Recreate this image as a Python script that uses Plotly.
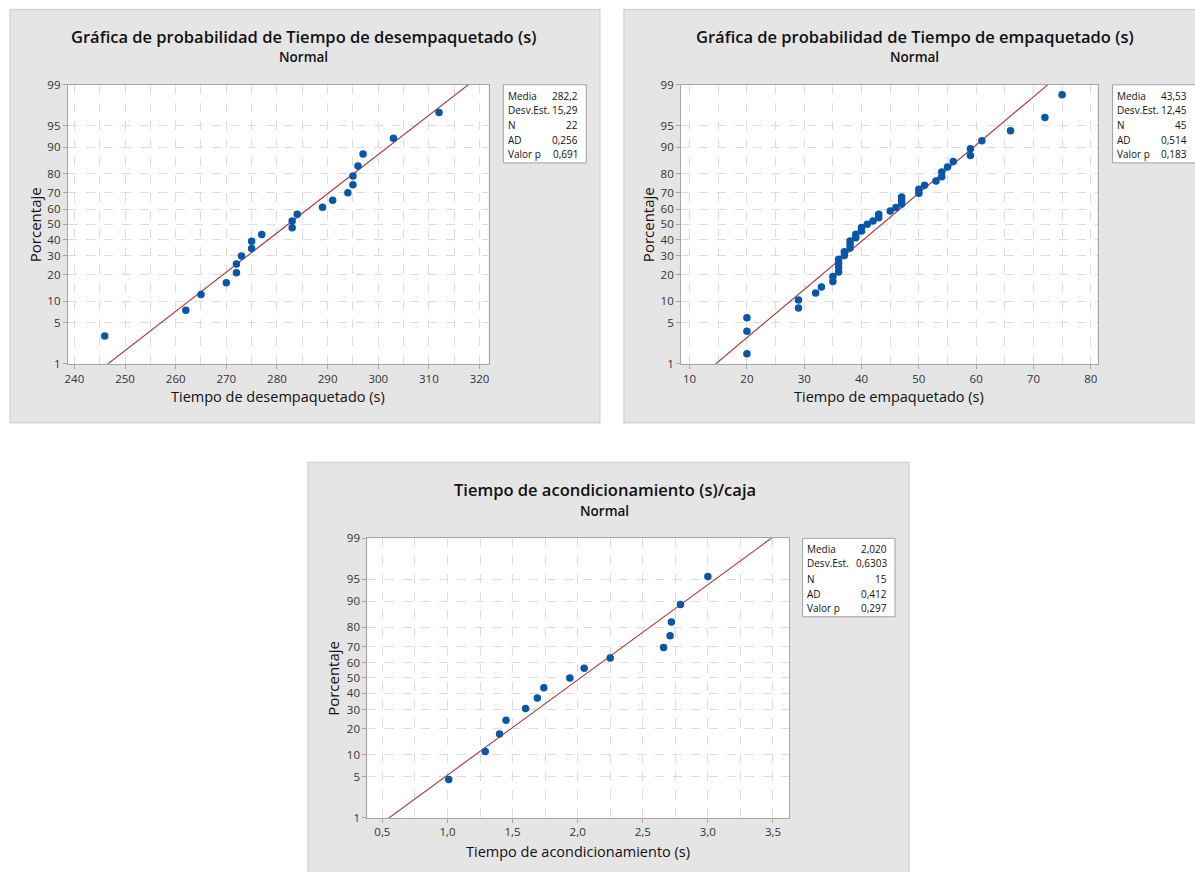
import plotly.graph_objects as go
from statistics import NormalDist

W, H = 1195, 872
nd = NormalDist()

# vertical placement calibration (observed rendering offset/scale of the page)
Y_OFF, Y_SPAN = 8.6, 856.0


def zval(p):
    return nd.inv_cdf(p / 100.0)


def px(x):
    return x / W


def py(y):
    return 1 - (y - Y_OFF) / Y_SPAN


# ---------------- data ----------------
pct_ticks = [1, 5, 10, 20, 30, 40, 50, 60, 70, 80, 90, 95, 99]
pct_labels = [str(v) for v in pct_ticks]

# Panel 1: Tiempo de desempaquetado (s)
desemp_x = [246, 262, 265, 270, 272, 272, 273, 275, 275, 277, 283,
            283, 284, 289, 291, 294, 295, 295, 296, 297, 303, 312]
desemp_pct = [3.13, 7.59, 12.05, 16.52, 20.98, 25.45, 29.91, 34.38, 38.84,
              43.30, 47.77, 52.23, 56.70, 61.16, 65.63, 70.09, 74.55, 79.02,
              83.48, 87.95, 92.41, 96.88]
desemp_mean, desemp_sd = 282.2, 15.29
desemp_stats = ["282,2", "15,29", "22", "0,256", "0,691"]
desemp_xticks = [240, 250, 260, 270, 280, 290, 300, 310, 320]
desemp_xticktext = ["240", "250", "260", "270", "280", "290", "300", "310", "320"]
desemp_xminor = [245, 255, 265, 275, 285, 295, 305, 315]

# Panel 2: Tiempo de empaquetado (s)
emp_x = [20, 20, 20, 29, 29, 32, 33, 35, 35, 36, 36, 36, 36, 37, 37,
         38, 38, 38, 39, 39, 40, 40, 41, 42, 43, 43, 45, 46, 47, 47,
         47, 50, 50, 51, 53, 54, 54, 55, 56, 59, 59, 61, 66, 72, 75]
emp_pct = [1.54, 3.74, 5.95, 8.15, 10.35, 12.56, 14.76, 16.96, 19.16, 21.37,
           23.57, 25.77, 27.97, 30.18, 32.38, 34.58, 36.78, 38.99, 41.19,
           43.39, 45.59, 47.80, 50.00, 52.20, 54.41, 56.61, 58.81, 61.01,
           63.22, 65.42, 67.62, 69.82, 72.03, 74.23, 76.43, 78.63, 80.84,
           83.04, 85.24, 87.44, 89.65, 91.85, 94.05, 96.26, 98.46]
emp_mean, emp_sd = 43.53, 12.45
emp_stats = ["43,53", "12,45", "45", "0,514", "0,183"]
emp_xticks = [10, 20, 30, 40, 50, 60, 70, 80]
emp_xticktext = ["10", "20", "30", "40", "50", "60", "70", "80"]
emp_xminor = [15, 25, 35, 45, 55, 65, 75]

# Panel 3: Tiempo de acondicionamiento (s)/caja
acond_x = [1.01, 1.29, 1.40, 1.45, 1.60, 1.69, 1.74, 1.94, 2.05, 2.25,
           2.66, 2.71, 2.72, 2.79, 3.00]
acond_pct = [4.55, 11.04, 17.53, 24.03, 30.52, 37.01, 43.51, 50.00, 56.49,
             62.99, 69.48, 75.97, 82.47, 88.96, 95.45]
acond_mean, acond_sd = 2.020, 0.6303
acond_stats = ["2,020", "0,6303", "15", "0,412", "0,297"]
acond_xticks = [0.5, 1.0, 1.5, 2.0, 2.5, 3.0, 3.5]
acond_xticktext = ["0,5", "1,0", "1,5", "2,0", "2,5", "3,0", "3,5"]
acond_xminor = [0.75, 1.25, 1.75, 2.25, 2.75, 3.25]

stat_labels = ["Media", "Desv.Est.", "N", "AD", "Valor p"]

# ---------------- style ----------------
FONT = "Open Sans"
PANEL_BG = "#E5E5E5"
PANEL_BORDER = "#C9C9C9"
AXIS = "#A6A6A6"
GRID = "#DCDCDC"
MARK = "#0856A8"
LINE = "#A83434"
TXT = "#111111"
TICK_TXT = "#333333"

panels = [
    dict(x=desemp_x, p=desemp_pct, mean=desemp_mean, sd=desemp_sd, stats=desemp_stats,
         xt=desemp_xticks, xtt=desemp_xticktext, xm=desemp_xminor, xr=[238.7, 321.8],
         box=(7, 10, 599, 423), plot=(65, 85.3, 487.3, 364),
         title="Gráfica de probabilidad de Tiempo de desempaquetado (s)",
         tcx=302, ty=37, ny=58, xtitle="Tiempo de desempaquetado (s)", xty=397,
         ytx=32, leg=(502, 85.3, 585.3, 163.3)),
    dict(x=emp_x, p=emp_pct, mean=emp_mean, sd=emp_sd, stats=emp_stats,
         xt=emp_xticks, xtt=emp_xticktext, xm=emp_xminor, xr=[8.5, 81.2],
         box=(623, 10, 1200, 423), plot=(680.3, 85.3, 1098.3, 364),
         title="Gráfica de probabilidad de Tiempo de empaquetado (s)",
         tcx=915, ty=37, ny=58, xtitle="Tiempo de empaquetado (s)", xty=397,
         ytx=647, leg=(1113.3, 85.3, 1200, 163.3)),
    dict(x=acond_x, p=acond_pct, mean=acond_mean, sd=acond_sd, stats=acond_stats,
         xt=acond_xticks, xtt=acond_xticktext, xm=acond_xminor, xr=[0.384, 3.626],
         box=(306, 462.3, 909, 890), plot=(365.5, 538.3, 789, 817.3),
         title="Tiempo de acondicionamiento (s)/caja",
         tcx=604, ty=490, ny=511, xtitle="Tiempo de acondicionamiento (s)", xty=851,
         ytx=331, leg=(802.3, 538.3, 895, 616.7)),
]

fig = go.Figure()
shapes = []
annotations = []
layout_axes = {}

zmin, zmax = zval(1), zval(99)

for i, pn in enumerate(panels, start=1):
    sfx = "" if i == 1 else str(i)
    xa, ya = "x" + sfx, "y" + sfx
    bx0, by0, bx1, by1 = pn["box"]
    x0, y0, x1, y1 = pn["plot"]

    # panel background and plot area
    shapes.append(dict(type="rect", xref="paper", yref="paper", layer="below",
                       x0=px(bx0), x1=px(bx1), y0=py(by1), y1=py(by0),
                       fillcolor=PANEL_BG, line=dict(color=PANEL_BORDER, width=1)))
    shapes.append(dict(type="rect", xref="paper", yref="paper", layer="below",
                       x0=px(x0), x1=px(x1), y0=py(y1), y1=py(y0),
                       fillcolor="white", line=dict(width=0)))

    # fitted line
    zl = [zval(0.05), zval(99.95)]
    fig.add_trace(go.Scatter(x=[pn["mean"] + pn["sd"] * z for z in zl], y=zl,
                             mode="lines", line=dict(color=LINE, width=1.1),
                             xaxis=xa, yaxis=ya, showlegend=False, hoverinfo="skip"))
    # points
    fig.add_trace(go.Scatter(x=pn["x"], y=[zval(p) for p in pn["p"]], mode="markers",
                             marker=dict(color=MARK, size=7.5, line=dict(width=0)),
                             xaxis=xa, yaxis=ya, showlegend=False, cliponaxis=False))

    common = dict(showline=True, linecolor=AXIS, linewidth=1, mirror=True,
                  ticks="outside", ticklen=4, tickcolor=AXIS, zeroline=False,
                  showgrid=True, gridcolor=GRID, griddash="dash", gridwidth=1,
                  tickfont=dict(family=FONT, size=11.5, color=TICK_TXT))
    layout_axes["xaxis" + sfx] = dict(
        domain=[px(x0), px(x1)], range=pn["xr"], anchor=ya,
        tickmode="array", tickvals=pn["xt"], ticktext=pn["xtt"],
        minor=dict(tickmode="array", tickvals=pn["xm"], showgrid=True,
                   gridcolor=GRID, griddash="dash", gridwidth=1, ticks=""),
        **common)
    layout_axes["yaxis" + sfx] = dict(
        domain=[py(y1), py(y0)], range=[zmin, zmax], anchor=xa,
        tickmode="array", tickvals=[zval(v) for v in pct_ticks], ticktext=pct_labels,
        **common)

    # titles
    annotations.append(dict(text=pn["title"], x=px(pn["tcx"]), y=py(pn["ty"]),
                            xref="paper", yref="paper", showarrow=False,
                            xanchor="center", yanchor="middle",
                            font=dict(family=FONT, size=16.5, color=TXT, weight=600)))
    annotations.append(dict(text="Normal", x=px(pn["tcx"]), y=py(pn["ny"]),
                            xref="paper", yref="paper", showarrow=False,
                            xanchor="center", yanchor="middle",
                            font=dict(family=FONT, size=13.5, color=TXT, weight=600)))
    annotations.append(dict(text=pn["xtitle"], x=px((x0 + x1) / 2), y=py(pn["xty"]),
                            xref="paper", yref="paper", showarrow=False,
                            xanchor="center", yanchor="middle",
                            font=dict(family=FONT, size=14.5, color=TXT)))
    annotations.append(dict(text="Porcentaje", x=px(pn["ytx"]), y=py((y0 + y1) / 2),
                            xref="paper", yref="paper", showarrow=False, textangle=-90,
                            xanchor="center", yanchor="middle",
                            font=dict(family=FONT, size=15, color=TXT)))

    # stats box
    lx0, ly0, lx1, ly1 = pn["leg"]
    shapes.append(dict(type="rect", xref="paper", yref="paper", layer="above",
                       x0=px(lx0), x1=px(lx1), y0=py(ly1), y1=py(ly0),
                       fillcolor="white", line=dict(color="#A0A0A0", width=1)))
    row_off = [10.8, 24.8, 40.2, 55.2, 69.2]
    vx = lx1 - 7 if i != 2 else 1189
    for lab, val, off in zip(stat_labels, pn["stats"], row_off):
        annotations.append(dict(text=lab, x=px(lx0 + 3.5), y=py(ly0 + off),
                                xref="paper", yref="paper", showarrow=False,
                                xanchor="left", yanchor="middle", borderpad=0,
                                font=dict(family=FONT, size=10, color=TXT)))
        annotations.append(dict(text=val, x=px(vx), y=py(ly0 + off),
                                xref="paper", yref="paper", showarrow=False,
                                xanchor="right", yanchor="middle", borderpad=0,
                                font=dict(family=FONT, size=10, color=TXT)))

fig.update_layout(
    width=W, height=H, autosize=False,
    margin=dict(l=0, r=0, t=0, b=0),
    paper_bgcolor="white", plot_bgcolor="rgba(0,0,0,0)",
    showlegend=False, shapes=shapes, annotations=annotations,
    **layout_axes,
)

fig.write_html("out.html", config={"displayModeBar": False},
               post_script="document.body.style.margin='0';document.body.style.overflow='hidden';")
